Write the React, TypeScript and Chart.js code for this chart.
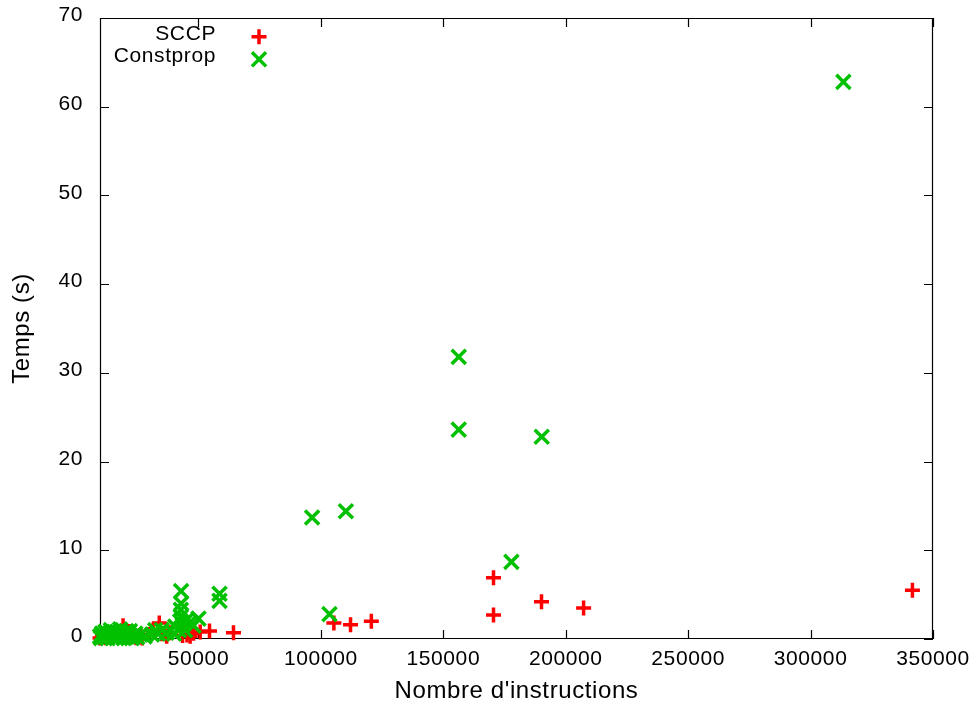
import React, { useEffect, useRef } from "react";
import { Chart, registerables } from "chart.js";

Chart.register(...registerables);

const FONT = "'Liberation Sans', Arial, Helvetica, sans-serif";

const xTickValues = [50000, 100000, 150000, 200000, 250000, 300000, 350000];
const yTickValues = [0, 10, 20, 30, 40, 50, 60, 70];
const X_MIN = 9780;
const X_MAX = 350000;
const Y_MIN = 0;
const Y_MAX = 70;

const sccpLabel = "SCCP";
const constpropLabel = "Constprop";

const sccpX = [
  9800, 10800, 12000, 13500, 15000, 16500, 18000, 19200, 21000, 22500, 24500,
  26500, 27000, 29500, 31500, 34000, 35000, 37000, 38400, 43500, 45300, 46600,
  48000, 50700, 54500, 64300, 105300, 112100, 120600, 170500, 170500, 190100,
  207300, 341600,
];
const sccpY = [
  0.1, 0.3, 0.15, 0.4, 0.2, 0.5, 0.3, 1.5, 0.2, 0.4, 0.15, 0.3, 0.1, 0.5, 1.0,
  1.8, 0.6, 0.3, 0.7, 0.4, 0.45, 0.3, 0.65, 0.8, 0.9, 0.7, 1.8, 1.6, 2.0, 6.9,
  2.7, 4.2, 3.5, 5.5,
];

const constpropX = [
  9800, 10200, 10600, 11100, 11500, 12000, 12400, 12900, 13300, 13800, 14200,
  14700, 15100, 15600, 16000, 16500, 17000, 17500, 18000, 18500, 19000, 19500,
  20000, 20500, 21000, 21500, 22000, 22800, 23500, 24200, 25000, 26500, 28000,
  31000, 32300, 33500, 35000, 37000, 40000, 40500, 42000, 42500, 42800, 42800,
  42900, 42900, 43500, 44500, 45000, 46600, 48000, 50000, 58600, 58600, 96400,
  103500, 110200, 156300, 156300, 177800, 190200, 313400,
];
const constpropY = [
  0.3, 0.1, 0.6, 0.4, 0.2, 0.8, 0.7, 0.1, 0.4, 0.6, 1.0, 0.2, 0.3, 0.8, 0.6,
  0.1, 0.2, 0.5, 1.1, 0.7, 0.4, 0.1, 0.6, 0.9, 0.3, 0.5, 0.9, 0.1, 0.4, 0.6,
  0.2, 0.5, 0.3, 0.5, 1.0, 0.6, 1.0, 0.7, 0.6, 1.4, 1.0, 2.0, 2.5, 3.3, 4.0,
  5.4, 1.6, 1.0, 2.1, 1.9, 1.5, 2.3, 5.1, 4.3, 13.7, 2.8, 14.4, 31.8, 23.6,
  8.7, 22.8, 62.8,
];

const RED = "#ff0000";
const GREEN = "#00c000";
const SPACING = "0.6px";

function toPoints(xs: number[], ys: number[]) {
  return xs.map((x, i) => ({ x, y: ys[i] }));
}

const spacingPlugin = {
  id: "spacing",
  beforeInit(chart: any) {
    (chart.ctx as any).letterSpacing = SPACING;
  },
  beforeUpdate(chart: any) {
    (chart.ctx as any).letterSpacing = SPACING;
  },
  beforeDraw(chart: any) {
    (chart.ctx as any).letterSpacing = SPACING;
  },
};

const framePlugin = {
  id: "frame",
  beforeDatasetsDraw(chart: any) {
    const { ctx, chartArea } = chart;
    const { left, right, top, bottom } = chartArea;
    const xs = chart.scales.x;
    const ys = chart.scales.y;
    ctx.save();
    ctx.strokeStyle = "#000";
    ctx.lineWidth = 1.2;
    ctx.beginPath();
    ctx.rect(left + 0.5, top + 0.5, right - left - 1, bottom - top - 1);
    const tl = 9;
    for (const v of xTickValues) {
      const px = Math.round(xs.getPixelForValue(v)) + 0.5;
      ctx.moveTo(px, bottom);
      ctx.lineTo(px, bottom - tl);
      ctx.moveTo(px, top);
      ctx.lineTo(px, top + tl);
    }
    for (const v of yTickValues) {
      const py = Math.round(ys.getPixelForValue(v)) + 0.5;
      ctx.moveTo(left, py);
      ctx.lineTo(left + tl, py);
      ctx.moveTo(right, py);
      ctx.lineTo(right - tl, py);
    }
    ctx.stroke();
    ctx.restore();
  },
  afterDatasetsDraw(chart: any) {
    const { ctx } = chart;
    const ds = chart.data.datasets;
    const textRight = 216;
    const markerX = 259;
    const rows = [36.7, 59.3];
    ctx.save();
    (ctx as any).letterSpacing = SPACING;
    ctx.font = `21px ${FONT}`;
    ctx.fillStyle = "#000";
    ctx.textAlign = "right";
    ctx.textBaseline = "middle";
    ds.forEach((d: any, i: number) => {
      const y = rows[i];
      ctx.fillText(d.label, textRight, y - 2.8);
      ctx.strokeStyle = d.borderColor;
      ctx.lineWidth = 3.5;
      ctx.beginPath();
      if (d.pointStyle === "cross") {
        const r = 7.5;
        ctx.moveTo(markerX - r, y);
        ctx.lineTo(markerX + r, y);
        ctx.moveTo(markerX, y - r);
        ctx.lineTo(markerX, y + r);
      } else {
        const r = 10 * Math.SQRT1_2;
        ctx.moveTo(markerX - r, y - r);
        ctx.lineTo(markerX + r, y + r);
        ctx.moveTo(markerX - r, y + r);
        ctx.lineTo(markerX + r, y - r);
      }
      ctx.stroke();
    });
    ctx.restore();
  },
};

export default function App() {
  const ref = useRef<HTMLCanvasElement>(null);

  useEffect(() => {
    if (!ref.current) return;
    const chart = new Chart(ref.current, {
      type: "scatter",
      data: {
        datasets: [
          {
            label: sccpLabel,
            data: toPoints(sccpX, sccpY),
            pointStyle: "cross",
            pointRadius: 7.5,
            pointBorderWidth: 3.5,
            borderColor: RED,
            backgroundColor: RED,
            order: 2,
            clip: false,
          } as any,
          {
            label: constpropLabel,
            data: toPoints(constpropX, constpropY),
            pointStyle: "crossRot",
            pointRadius: 10,
            pointBorderWidth: 3.5,
            borderColor: GREEN,
            backgroundColor: GREEN,
            order: 1,
            clip: false,
          } as any,
        ],
      },
      options: {
        animation: false,
        responsive: false,
        devicePixelRatio: 1,
        events: [],
        layout: { padding: { top: 18, right: 40, left: 0, bottom: 0 } },
        plugins: {
          legend: { display: false },
          tooltip: { enabled: false },
        },
        scales: {
          x: {
            type: "linear",
            position: "bottom",
            min: X_MIN,
            max: X_MAX,
            afterBuildTicks: (s: any) => {
              s.ticks = xTickValues.map((v) => ({ value: v }));
            },
            afterFit: (s: any) => {
              s.height = 65;
              s.paddingLeft = 0;
              s.paddingRight = 0;
              s.paddingTop = 0;
              s.paddingBottom = 0;
            },
            grid: { display: false, drawTicks: false },
            border: { display: false },
            ticks: {
              color: "#000",
              font: { family: FONT, size: 21 },
              padding: 8,
              maxRotation: 0,
              autoSkip: false,
              callback: (v: any) => String(v),
            },
            title: {
              display: true,
              text: "Nombre d'instructions",
              color: "#000",
              font: { family: FONT, size: 24, lineHeight: 1 },
              padding: { top: 0, bottom: 1 },
            },
          },
          y: {
            type: "linear",
            min: Y_MIN,
            max: Y_MAX,
            afterBuildTicks: (s: any) => {
              s.ticks = yTickValues.map((v) => ({ value: v }));
            },
            afterFit: (s: any) => {
              s.width = 100;
              s.paddingLeft = 0;
              s.paddingRight = 0;
              s.paddingTop = 0;
              s.paddingBottom = 0;
            },
            grid: { display: false, drawTicks: false },
            border: { display: false },
            ticks: {
              color: "#000",
              font: { family: FONT, size: 21 },
              padding: 17,
              labelOffset: -2.5,
              autoSkip: false,
              callback: (v: any) => String(v),
            },
            title: {
              display: true,
              text: "Temps (s)",
              color: "#000",
              font: { family: FONT, size: 24, lineHeight: 1 },
              padding: { top: 10.5, bottom: 0 },
            },
          },
        },
      } as any,
      plugins: [spacingPlugin, framePlugin],
    });
    return () => chart.destroy();
  }, []);

  return (
    <div
      style={{
        position: "fixed",
        left: 0,
        top: 0,
        width: 973,
        height: 704,
        background: "#fff",
      }}
    >
      <canvas
        ref={ref}
        width={973}
        height={704}
        style={{ display: "block", width: 973, height: 704 }}
      />
    </div>
  );
}
